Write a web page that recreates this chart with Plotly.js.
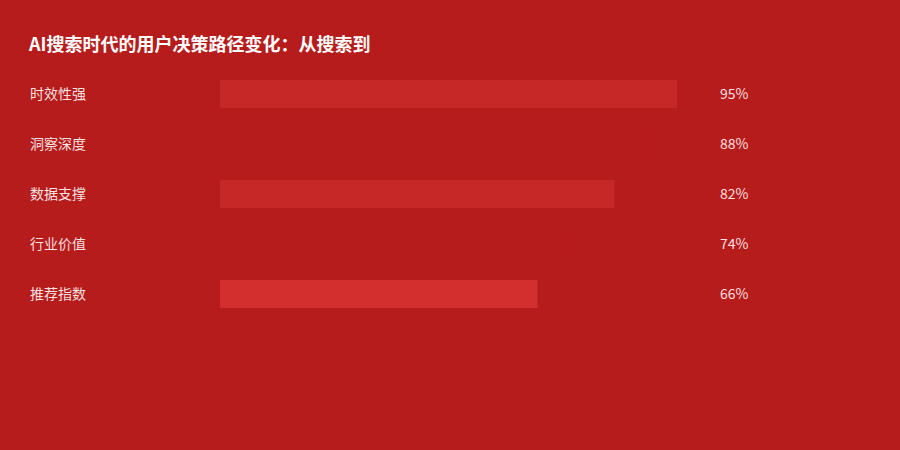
<!DOCTYPE html>
<html>
<head>
<meta charset="utf-8">
<script src="https://cdn.plot.ly/plotly-3.0.1.min.js"></script>
<style>
  html, body { margin: 0; padding: 0; background: #b71c1c; }
  #chart { width: 900px; height: 450px; }
</style>
</head>
<body>
<div id="chart"></div>
<script>
var categories = ["时效性强", "洞察深度", "数据支撑", "行业价值", "推荐指数"];
var values = [95, 88, 82, 74, 66];
var valueLabels = ["95%", "88%", "82%", "74%", "66%"];
var barColors = ["#c62828", "#b71c1c", "#c62828", "#b71c1c", "#d32f2f"];

var W = 900, H = 450;
var bg = "#b71c1c";
var font = "'Noto Sans CJK SC', 'Noto Sans', sans-serif";

var trace = {
    type: "bar",
    orientation: "h",
    x: values,
    y: categories,
    width: 0.56,
    marker: { color: barColors, line: { width: 0 } },
    hoverinfo: "skip"
};

var annotations = [];
for (var i = 0; i < categories.length; i++) {
    // category name on the left
    annotations.push({
        xref: "paper", yref: "y",
        x: 28 / W, y: categories[i],
        xanchor: "left", yanchor: "middle", yshift: 1,
        text: categories[i], showarrow: false,
        font: { family: font, size: 14, color: "rgba(255,255,255,0.88)" }
    });
    // value on the right
    annotations.push({
        xref: "paper", yref: "y",
        x: 718 / W, y: categories[i],
        xanchor: "left", yanchor: "middle", yshift: 1,
        text: valueLabels[i], showarrow: false,
        font: { family: font, size: 14, color: "rgba(255,255,255,0.88)" }
    });
}

var layout = {
    width: W, height: H,
    margin: { l: 0, r: 0, t: 0, b: 0 },
    paper_bgcolor: bg,
    plot_bgcolor: bg,
    showlegend: false,
    title: {
        text: "<b>AI搜索时代的用户决策路径变化：从搜索到</b>",
        x: 29 / W, xanchor: "left", xref: "paper",
        y: 1 - 45 / H, yanchor: "middle", yref: "paper",
        font: { family: font, size: 18, color: "#ffffff" }
    },
    xaxis: {
        domain: [220 / W, 701 / W],
        range: [0, 100],
        visible: false, fixedrange: true
    },
    yaxis: {
        domain: [1 - 319 / H, 1 - 69 / H],
        type: "category",
        categoryorder: "array",
        categoryarray: categories,
        range: [categories.length - 0.5, -0.5],
        visible: false, fixedrange: true
    },
    annotations: annotations
};

Plotly.newPlot("chart", [trace], layout, { displayModeBar: false, staticPlot: true });
</script>
</body>
</html>
